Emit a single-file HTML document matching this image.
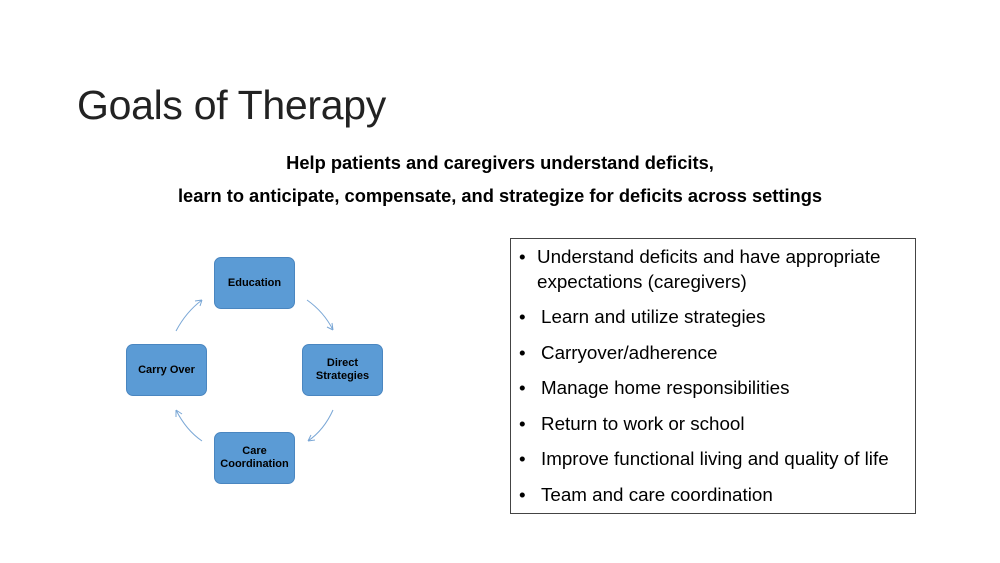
<!DOCTYPE html>
<html><head><style>
body{margin:0;width:1000px;height:563px;background:#fff;position:relative;overflow:hidden;font-family:"Liberation Sans",sans-serif;color:#000}
.t{position:absolute;left:77px;top:82px;font-size:41px;font-weight:300;letter-spacing:-0.3px;color:#222}
.sub{position:absolute;left:0;width:1000px;text-align:center;font-size:18.3px;font-weight:bold}
.b{position:absolute;width:81px;height:52px;background:#5b9bd5;border:1px solid #4a86c0;border-radius:7px;box-sizing:border-box;display:flex;align-items:center;justify-content:center;text-align:center;font-size:11px;font-weight:bold;line-height:13px}
.box{position:absolute;left:510px;top:238px;width:406px;height:276px;border:1px solid #444;box-sizing:border-box;font-size:18.8px}
.li{position:absolute;left:8px}
.li span{position:absolute;left:22px;white-space:nowrap}
</style></head><body>
<div class="t">Goals of Therapy</div>
<div class="sub" style="top:152px">Help patients and caregivers understand deficits,</div>
<div class="sub" style="top:185px">learn to anticipate, compensate, and strategize for deficits across settings</div>
<div class="b" style="left:214px;top:257px">Education</div>
<div class="b" style="left:302px;top:344px">Direct<br>Strategies</div>
<div class="b" style="left:126px;top:344px">Carry Over</div>
<div class="b" style="left:214px;top:432px">Care<br>Coordination</div>
<svg width="1000" height="563" style="position:absolute;left:0;top:0" fill="none" stroke="#7aa7d6" stroke-width="1">
<path d="M307 300 Q324 312 333 330 M333 330 l-1 -7 M333 330 l-6 -3"/>
<path d="M333 410 Q324 430 308 441 M308 441 l7 -1 M308 441 l3 -6"/>
<path d="M202 441 Q186 430 176 410 M176 410 l0 7 M176 410 l6 4"/>
<path d="M176 331 Q186 312 202 300 M202 300 l-7 1 M202 300 l-2 6"/>
</svg>
<div class="box">
<div class="li" style="top:7px">•<span style="left:18px">Understand deficits and have appropriate</span></div>
<div class="li" style="top:32px"><span style="left:18px">expectations (caregivers)</span></div>
<div class="li" style="top:67px">•<span>Learn and utilize strategies</span></div>
<div class="li" style="top:103px">•<span>Carryover/adherence</span></div>
<div class="li" style="top:138px">•<span>Manage home responsibilities</span></div>
<div class="li" style="top:174px">•<span>Return to work or school</span></div>
<div class="li" style="top:209px">•<span>Improve functional living and quality of life</span></div>
<div class="li" style="top:245px">•<span>Team and care coordination</span></div>
</div>
</body></html>
